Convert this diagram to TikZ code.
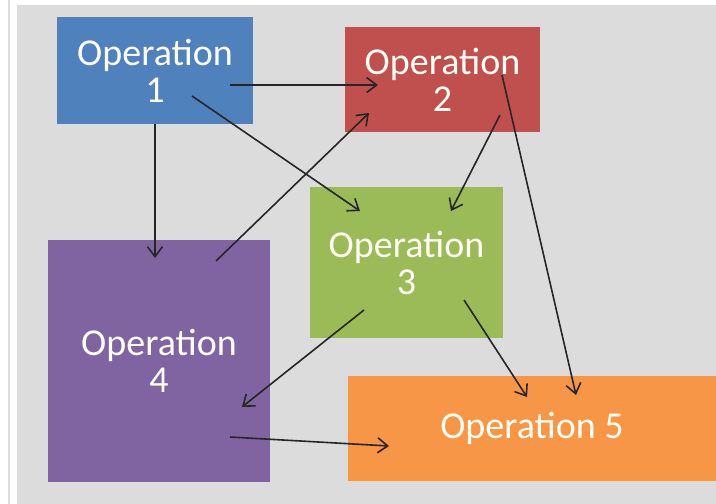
\documentclass[tikz,border=0pt]{standalone}
\usepackage{fontspec}
\setmainfont{Carlito}
\usetikzlibrary{arrows.meta}

\definecolor{opblue}{HTML}{4F81BD}
\definecolor{opred}{HTML}{C0504D}
\definecolor{opgreen}{HTML}{9BBB59}
\definecolor{oppurple}{HTML}{8064A2}
\definecolor{oporange}{HTML}{F79646}
\definecolor{panel}{HTML}{DCDCDC}

\begin{document}
\begin{tikzpicture}[x=1pt, y=-1pt,
    >={Straight Barb[length=10pt,width=15pt]},
    operation/.style ={rectangle, inner sep=0pt, text=white!96!yellow, align=center,
      font=\fontsize{38}{37}\selectfont},
    link/.style ={line width=1.6pt, ->, black!85}]
   \useasboundingbox (0,0) rectangle (716,504);
   \fill[white] (0,0) rectangle (716,504);
   \draw[panel, line width=1.5pt] (9,0) -- (9,504);
   \fill[panel] (17,5) rectangle (716,504);
   \node[operation, fill=opblue, minimum width=196pt, minimum height=107pt] (op1) at (155,70.5) {Operation\\1};
   \node[operation, fill=opred, minimum width=195pt, minimum height=105pt] (op2) at (442.5,79.5) {Operation\\2};
   \node[operation, fill=opgreen, minimum width=193pt, minimum height=151pt] (op3) at (406.5,262.5) {Operation\\3};
   \node[operation, fill=oppurple, minimum width=222pt, minimum height=242pt] (op4) at (159,361) {Operation\\4};
   \node[operation, fill=oporange, minimum width=368pt, minimum height=105pt] (op5) at (532,428.5) {Operation 5};
   \draw[link] ([shift={(75,14.5)}]op1.center) to ([shift={(-64.5,5.5)}]op2.center);
   \draw[link] ([shift={(37,25.5)}]op1.center) to ([shift={(-46.5,-51.5)}]op3.center);
   \draw[link] (op1.south) to ([shift={(-4,-103)}]op4.center);
   \draw[link] ([shift={(57,-100)}]op4.center) to ([shift={(-73.5,33.5)}]op2.center);
   \draw[link] ([shift={(57.5,35.5)}]op2.center) to ([shift={(44.5,-51.5)}]op3.center);
   \draw[link] ([shift={(59.5,-4.5)}]op2.center) to ([shift={(44,-33.5)}]op5.center);
   \draw[link] ([shift={(57.5,37.5)}]op3.center) to ([shift={(-5,-31.5)}]op5.center);
   \draw[link] ([shift={(-42.5,47.5)}]op3.center) to ([shift={(83,46)}]op4.center);
   \draw[link] ([shift={(71,76)}]op4.center) to ([shift={(-143,17.5)}]op5.center);
\end{tikzpicture}
\end{document}
